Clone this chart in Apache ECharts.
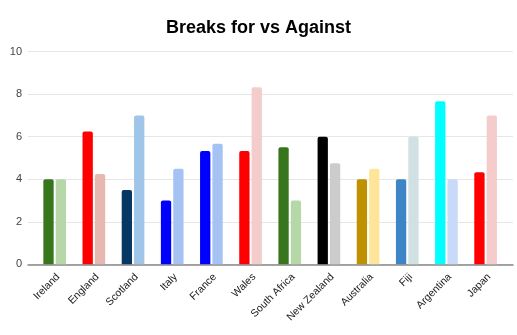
<!DOCTYPE html>
<html><head><meta charset="utf-8">
<script src="https://cdn.jsdelivr.net/npm/echarts@6/dist/echarts.min.js"></script>
<style>html,body{margin:0;padding:0;background:#fff}#c{width:517px;height:335px}</style>
</head><body><div id="c"></div>
<script>
const categories = ['Ireland','England','Scotland','Italy','France','Wales','South Africa','New Zealand','Australia','Fiji','Argentina','Japan'];
const breaksFor = [4, 6.25, 3.5, 3, 5.33, 5.33, 5.5, 6, 4, 4, 7.67, 4.33];
const breaksAgainst = [4, 4.25, 7, 4.5, 5.67, 8.33, 3, 4.75, 4.5, 6, 4, 7];
const forColors = ['#38761d','#ff0000','#073763','#0000ff','#0000ff','#ff0000','#38761d','#000000','#bf9000','#3d85c6','#00ffff','#ff0000'];
const againstColors = ['#b6d7a8','#e6b8af','#9fc5e8','#a4c2f4','#a4c2f4','#f4cccc','#b6d7a8','#cccccc','#ffe599','#d0e0e3','#c9daf8','#f4cccc'];
const yTicks = [0, 2, 4, 6, 8, 10];

const font = 'Liberation Sans, Arial';
const chart = echarts.init(document.getElementById('c'));
chart.setOption({
  animation: false,
  title: {text: 'Breaks for vs Against', left: 'center', top: 14,
    textStyle: {fontFamily: font, fontWeight: 'bold', fontSize: 18, color: '#000'}},
  grid: [
    {left: 28, right: 4, top: 51.7, bottom: 70.7},
    {left: 35.1, right: 11.8, top: 51.7, bottom: 70.7},
    {left: 38.6, right: 8.3, top: 51.7, bottom: 70.7}
  ],
  xAxis: [
    {gridIndex: 0, type: 'category', data: categories,
     axisLine: {lineStyle: {color: '#888', width: 1.5}}, axisTick: {show: false}, axisLabel: {show: false}},
    {gridIndex: 1, type: 'category', data: categories,
     axisLine: {show: false}, axisTick: {show: false}, axisLabel: {show: false}},
    {gridIndex: 2, type: 'category', data: categories,
     axisLine: {show: false}, axisTick: {show: false},
     axisLabel: {rotate: 45, interval: 0, fontSize: 10.5, color: '#222', fontFamily: font, margin: 11}}
  ],
  yAxis: [
    {gridIndex: 0, type: 'value', min: yTicks[0], max: yTicks[yTicks.length-1], interval: 2,
     axisLine: {show: false}, axisTick: {show: false},
     splitLine: {lineStyle: {color: '#e6e6e6'}},
     axisLabel: {fontSize: 11, color: '#444', fontFamily: font, margin: 6}},
    {gridIndex: 1, type: 'value', min: yTicks[0], max: yTicks[yTicks.length-1], interval: 2,
     show: false, splitLine: {show: false}},
    {gridIndex: 2, type: 'value', min: yTicks[0], max: yTicks[yTicks.length-1], interval: 2,
     show: false, splitLine: {show: false}}
  ],
  series: [
    {name: 'For', type: 'bar', xAxisIndex: 1, yAxisIndex: 1, barWidth: 10.3, barGap: '20%', z: 3,
     data: breaksFor.map((v, i) => ({value: v, itemStyle: {color: forColors[i], borderRadius: [2,2,0,0]}}))},
    {name: 'Against', type: 'bar', xAxisIndex: 1, yAxisIndex: 1, barWidth: 10.3, barGap: '20%', z: 3,
     data: breaksAgainst.map((v, i) => ({value: v, itemStyle: {color: againstColors[i], borderRadius: [2,2,0,0]}}))}
  ]
});
</script></body></html>
